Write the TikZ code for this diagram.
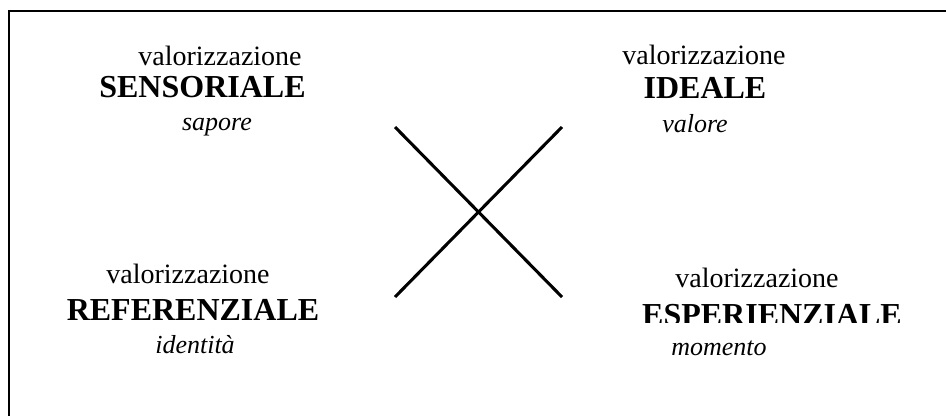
\documentclass[tikz,border=0pt]{standalone}
\usepackage{fontspec}
\setmainfont{Liberation Serif}
\begin{document}
\begin{tikzpicture}[x=0.75pt,y=-0.75pt,
  val/.style={anchor=base, inner sep=0pt, font=\fontsize{21}{21}\selectfont},
  head/.style={anchor=base, inner sep=0pt, font=\fontsize{24}{24}\selectfont\bfseries},
  sub/.style={anchor=base, inner sep=0pt, font=\fontsize{19.5}{19.5}\selectfont\itshape},
  cross/.style={line width=2.3pt},
  frame/.style={line width=1.6pt}]
\useasboundingbox (0,0) rectangle (946,415);
% frame (cut by the picture edges at right and bottom)
\coordinate (f1) at (9,440);
\coordinate (f2) at (9,11);
\coordinate (f3) at (970,11);
\draw[frame] (f1) -- (f2) -- (f3);
% top left
\node[val]  (v1) at (220,65)  {valorizzazione};
\node[head] (h1) at (202.5,97) {SENSORIALE};
\node[sub]  (s1) at (217,130) {sapore};
% top right
\node[val]  (v2) at (704,64)  {valorizzazione};
\node[head] (h2) at (705,98)  {IDEALE};
\node[sub]  (s2) at (695,132) {valore};
% bottom left
\node[val]  (v3) at (188,283) {valorizzazione};
\node[head] (h3) at (193,320) {REFERENZIALE};
\node[sub]  (s3) at (195,353) {identità};
% bottom right
\node[val]  (v4) at (757,287) {valorizzazione};
\begin{scope}
\clip (600,280) rectangle (946,322.5);
\node[head] (h4) at (772,325) {ESPERIENZIALE};
\end{scope}
\node[sub]  (s4) at (719,355) {momento};
% cross
\coordinate (c1) at (395,127);
\coordinate (c2) at (562,297);
\coordinate (c3) at (395,297);
\coordinate (c4) at (562,127);
\draw[cross] (c1) -- (c2);
\draw[cross] (c3) -- (c4);
\end{tikzpicture}
\end{document}
